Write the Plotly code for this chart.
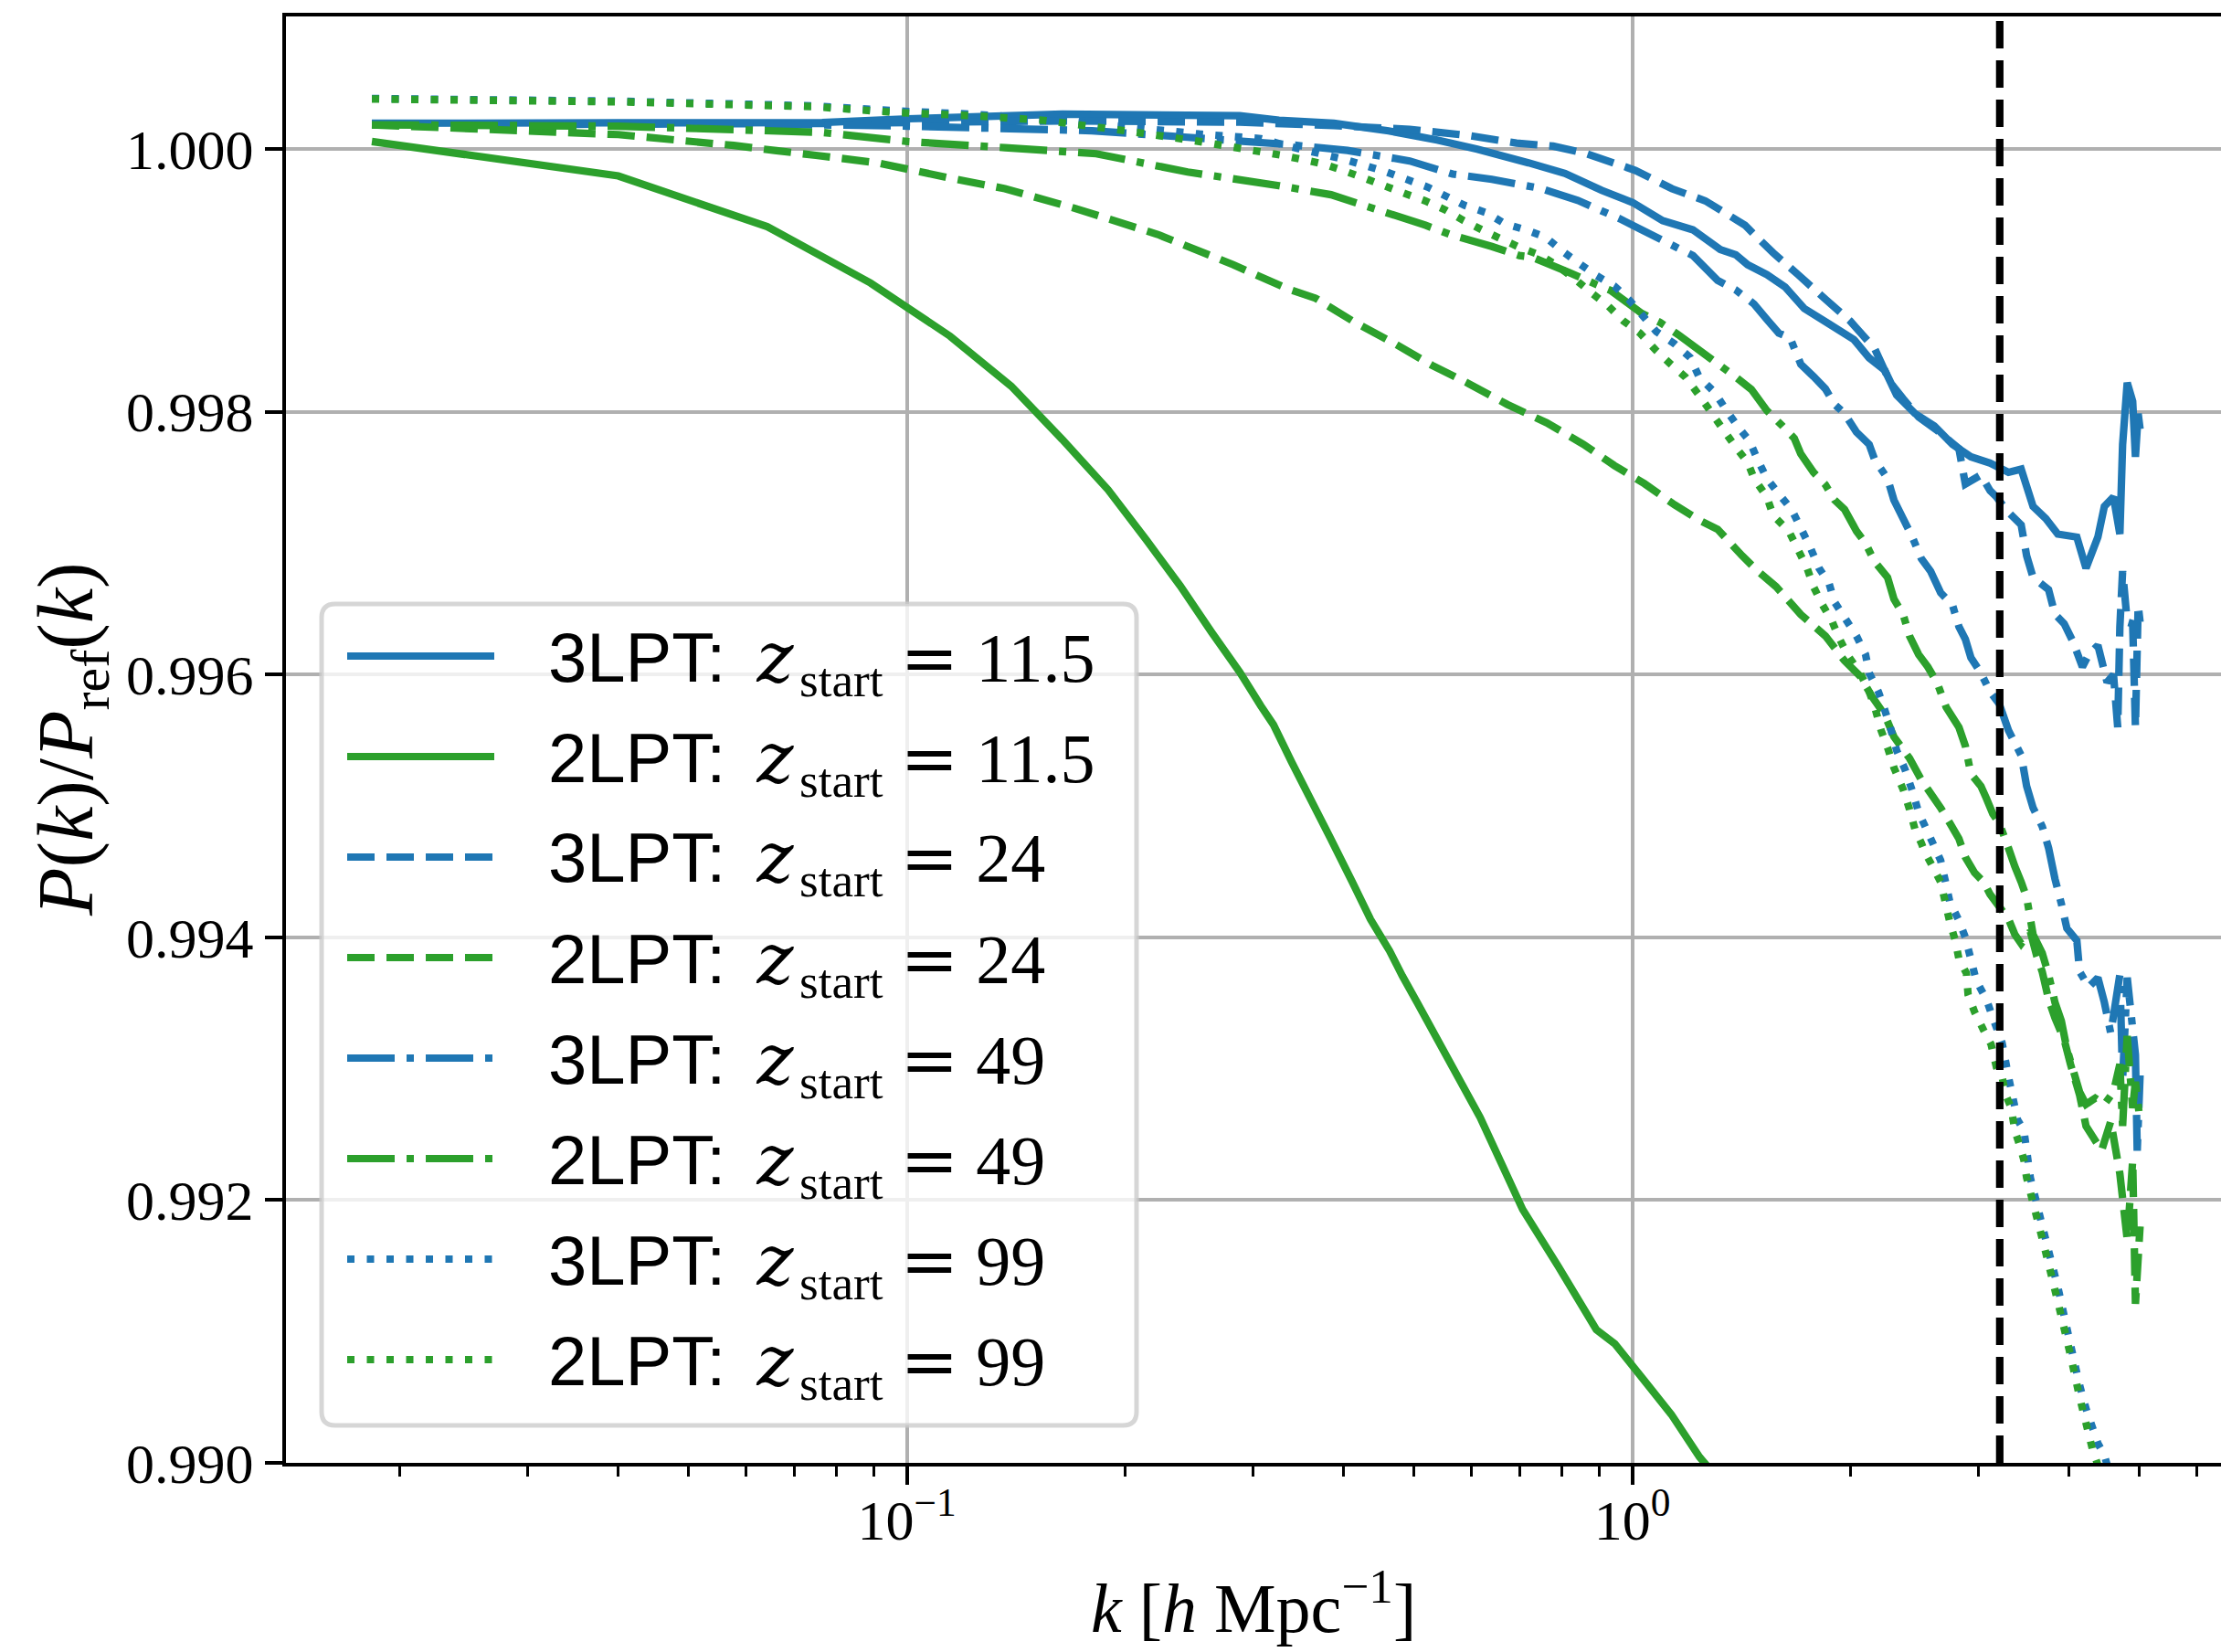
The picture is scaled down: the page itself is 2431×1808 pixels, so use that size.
import plotly.graph_objects as go

# ---------------------------------------------------------------------------
# Measured P(k)/P_ref(k) for each initial-condition setup
# ---------------------------------------------------------------------------
k_3lpt_z115 = [0.0183, 0.040, 0.0764, 0.1003, 0.1638, 0.2876, 0.3258, 0.3878, 0.4614, 0.5381,
               0.6113, 0.7191, 0.8077, 0.907, 1.001, 1.101, 1.212, 1.322, 1.389, 1.442,
               1.533, 1.624, 1.726, 1.867, 2.020, 2.121, 2.229, 2.314, 2.453, 2.608,
               2.763, 2.929, 3.113, 3.300, 3.436, 3.568, 3.715, 3.859, 4.100, 4.221,
               4.383, 4.474, 4.606, 4.700, 4.741, 4.811, 4.895, 4.938, 4.981, 5.011]
ratio_3lpt_z115 = [1.000197, 1.000200, 1.000203, 1.000231, 1.000266, 1.000254, 1.000220, 1.000197, 1.000139, 1.000069,
                   1.000000, 0.999896, 0.999815, 0.999687, 0.999594, 0.999456, 0.999386, 0.999236, 0.999196, 0.999120,
                   0.999045, 0.998951, 0.998787, 0.998669, 0.998551, 0.998410, 0.998316, 0.998128, 0.997987, 0.997893,
                   0.997752, 0.997658, 0.997610, 0.997540, 0.997564, 0.997281, 0.997188, 0.997070, 0.997047, 0.996811,
                   0.997047, 0.997281, 0.997352, 0.997070, 0.997752, 0.998222, 0.998081, 0.997658, 0.997987, 0.997870]

k_2lpt_z115 = [0.0183, 0.040, 0.0642, 0.0891, 0.1147, 0.1393, 0.1638, 0.1894, 0.214, 0.238,
               0.263, 0.2876, 0.3075, 0.3201, 0.3393, 0.3606, 0.3833, 0.4109, 0.4357, 0.4628,
               0.4819, 0.5062, 0.617, 0.706, 0.790, 0.892, 0.946, 1.035, 1.132, 1.238,
               1.5, 2.0, 3.0, 5.0]
ratio_2lpt_z115 = [1.000058, 0.999796, 0.999410, 0.998981, 0.998576, 0.998195, 0.997789, 0.997407, 0.997023, 0.996677,
                   0.996323, 0.996019, 0.995763, 0.995619, 0.995332, 0.995045, 0.994759, 0.994424, 0.994136, 0.993897,
                   0.993707, 0.993495, 0.992629, 0.991929, 0.991498, 0.991014, 0.990906, 0.990637, 0.990368, 0.990044,
                   0.989500, 0.988700, 0.987500, 0.985500]

k_3lpt_z24 = [0.0183, 0.040, 0.0764, 0.1638, 0.2876, 0.3878, 0.4933, 0.5939, 0.6924, 0.7776,
              0.8658, 1.010, 1.134, 1.261, 1.430, 1.472, 1.564, 1.692, 1.846, 1.996,
              2.159, 2.268, 2.362, 2.482, 2.630, 2.820, 2.878, 3.024, 3.113, 3.177,
              3.300, 3.436, 3.496, 3.568, 3.748, 3.825, 3.938, 4.053, 4.173, 4.258,
              4.383, 4.513, 4.606, 4.668, 4.700, 4.741, 4.811, 4.895, 4.938, 4.981, 5.011]
ratio_3lpt_z24 = [1.000185, 1.000190, 1.000195, 1.000215, 1.000205, 1.000180, 1.000150, 1.000104, 1.000046, 1.000023,
                  0.999965, 0.999838, 0.999699, 0.999606, 0.999421, 0.999351, 0.999210, 0.999045, 0.998857, 0.998692,
                  0.998480, 0.998222, 0.998100, 0.997960, 0.997860, 0.997720, 0.997450, 0.997520, 0.997400, 0.997352,
                  0.997235, 0.997140, 0.996905, 0.996740, 0.996647, 0.996459, 0.996388, 0.996247, 0.996059, 0.996153,
                  0.996223, 0.995942, 0.996000, 0.995600, 0.996365, 0.996788, 0.996400, 0.996388, 0.995600, 0.996529, 0.996400]

k_2lpt_z24 = [0.0183, 0.040, 0.0577, 0.0661, 0.0749, 0.0910, 0.1147, 0.1365, 0.1706, 0.2216,
              0.2818, 0.3354, 0.3659, 0.4146, 0.4709, 0.5289, 0.5939, 0.6727, 0.762, 0.8558,
              0.9445, 1.039, 1.144, 1.237, 1.311, 1.417, 1.489, 1.578, 1.707, 1.846,
              1.961, 2.061, 2.140, 2.229, 2.294, 2.411, 2.503, 2.555, 2.661, 2.740,
              2.820, 2.878, 2.963, 3.050, 3.113, 3.205, 3.300, 3.368, 3.436, 3.537,
              3.610, 3.673, 3.748, 3.825, 3.938, 4.018, 4.136, 4.221, 4.435, 4.566,
              4.700, 4.811, 4.895, 4.938, 5.011]
ratio_2lpt_z24 = [1.000185, 1.000111, 1.000028, 0.999988, 0.999953, 0.999896, 0.999780, 0.999699, 0.999549, 0.999351,
                  0.999120, 0.998935, 0.998865, 0.998681, 0.998518, 0.998356, 0.998217, 0.998056, 0.997917, 0.997754,
                  0.997592, 0.997454, 0.997292, 0.997176, 0.997106, 0.996905, 0.996788, 0.996670, 0.996458, 0.996294,
                  0.996106, 0.995988, 0.995833, 0.995692, 0.995527, 0.995363, 0.995198, 0.995127, 0.994986, 0.994869,
                  0.994751, 0.994610, 0.994493, 0.994422, 0.994328, 0.994234, 0.994140, 0.994022, 0.993952, 0.994045,
                  0.993858, 0.993740, 0.993528, 0.993387, 0.993222, 0.993035, 0.992800, 0.992564, 0.992377, 0.992600,
                  0.992200, 0.991700, 0.992300, 0.991210, 0.991800]

k_3lpt_z49 = [0.0183, 0.040, 0.0764, 0.1003, 0.1799, 0.2438, 0.3354, 0.405, 0.4933, 0.5654,
              0.6402, 0.7489, 0.8411, 0.961, 1.061, 1.212, 1.311, 1.389, 1.472, 1.533,
              1.592, 1.650, 1.707, 1.777, 1.846, 1.900, 1.961, 2.037, 2.121, 2.159,
              2.248, 2.294, 2.362, 2.432, 2.503, 2.577, 2.661, 2.763, 2.820, 2.878,
              2.929, 3.024, 3.113, 3.205, 3.300, 3.436, 3.496, 3.568, 3.673, 3.748,
              3.825, 3.903, 3.972, 4.100, 4.136, 4.258, 4.383, 4.474, 4.566, 4.700,
              4.741, 4.811, 4.938, 4.966, 5.011]
ratio_3lpt_z49 = [1.000195, 1.000195, 1.000185, 1.000175, 1.000140, 1.000090, 1.000035, 0.999990, 0.999910, 0.999810,
                  0.999770, 0.999700, 0.999610, 0.999470, 0.999350, 0.999190, 0.999000, 0.998928, 0.998820, 0.998704,
                  0.998599, 0.998563, 0.998363, 0.998270, 0.998175, 0.998058, 0.997987, 0.997846, 0.997752, 0.997634,
                  0.997493, 0.997329, 0.997188, 0.997047, 0.996882, 0.996788, 0.996623, 0.996529, 0.996365, 0.996270,
                  0.996129, 0.996012, 0.995870, 0.995777, 0.995575, 0.995386, 0.995151, 0.994986, 0.994845, 0.994681,
                  0.994445, 0.994257, 0.994069, 0.993975, 0.993740, 0.993622, 0.993693, 0.993505, 0.993270, 0.993716,
                  0.992917, 0.993693, 0.993105, 0.992376, 0.992950]

k_2lpt_z49 = [0.0183, 0.040, 0.0764, 0.1003, 0.1365, 0.1824, 0.2438, 0.3258, 0.3843, 0.4266,
              0.5183, 0.5605, 0.6402, 0.6985, 0.7274, 0.8169, 0.8913, 0.9337, 1.0304, 1.0919,
              1.157, 1.2842, 1.3889, 1.4591, 1.5328, 1.6103, 1.6722, 1.7065, 1.7771, 1.8455,
              1.900, 1.9614, 2.037, 2.0966, 2.1588, 2.2481, 2.2941, 2.3621, 2.4105, 2.4815,
              2.5546, 2.6303, 2.7077, 2.8202, 2.8779, 2.9287, 3.0237, 3.0771, 3.1402, 3.205,
              3.2995, 3.3677, 3.4356, 3.4963, 3.5682, 3.6728, 3.7481, 3.8249, 3.9031, 3.9719,
              4.0532, 4.1362, 4.2209, 4.3461, 4.4741, 4.6057, 4.6999, 4.7412, 4.8106, 4.8947,
              4.9378, 5.011]
ratio_2lpt_z49 = [1.000185, 1.000175, 1.000127, 1.000058, 1.000011, 0.999965, 0.999826, 0.999722, 0.999653, 0.999572,
                  0.999421, 0.999351, 0.999259, 0.999190, 0.999178, 0.999063, 0.998970, 0.998924, 0.998750, 0.998681,
                  0.998588, 0.998403, 0.998264, 0.998171, 0.998010, 0.997893, 0.997799, 0.997681, 0.997540, 0.997446,
                  0.997329, 0.997258, 0.997093, 0.996999, 0.996858, 0.996740, 0.996576, 0.996458, 0.996294, 0.996153,
                  0.996059, 0.995941, 0.995753, 0.995598, 0.995457, 0.995246, 0.995151, 0.995057, 0.994939, 0.994869,
                  0.994681, 0.994540, 0.994422, 0.994304, 0.994022, 0.993881, 0.993716, 0.993505, 0.993364, 0.993152,
                  0.992988, 0.992823, 0.992729, 0.992776, 0.992729, 0.992823, 0.993035, 0.992564, 0.993250, 0.992700,
                  0.992900, 0.992600]

k_3lpt_z99 = [0.0183, 0.040, 0.0741, 0.0973, 0.1241, 0.1546, 0.2007, 0.2531, 0.3075, 0.3354,
              0.4026, 0.4574, 0.5228, 0.554, 0.587, 0.6293, 0.6668, 0.7129, 0.7599, 0.8006,
              0.8435, 0.8913, 0.9445, 0.9893, 1.0792, 1.1436, 1.2016, 1.2366, 1.2991, 1.3491,
              1.4011, 1.4507, 1.489, 1.5328, 1.5919, 1.6577, 1.7065, 1.7568, 1.8085, 1.8672,
              1.900, 1.9614, 2.037, 2.0966, 2.1213, 2.1838, 2.2288, 2.2678, 2.3143, 2.3758,
              2.4317, 2.4815, 2.5328, 2.6075, 2.6607, 2.6996, 2.7396, 2.8202, 2.8779, 2.9287,
              2.9798, 3.0771, 3.1402, 3.2331, 3.2995, 3.3477, 3.3966, 3.466, 3.4963, 3.5372,
              3.7154, 3.8585, 4.0179, 4.1362, 4.2209, 4.3834, 4.4741, 4.700, 5.011]
ratio_3lpt_z99 = [1.000385, 1.000365, 1.000330, 1.000290, 1.000265, 1.000230, 1.000170, 1.000115, 1.000080, 1.000023,
                  0.999919, 0.999828, 0.999710, 0.999641, 0.999572, 0.999516, 0.999433, 0.999386, 0.999329, 0.999224,
                  0.999132, 0.999039, 0.998958, 0.998854, 0.998611, 0.998518, 0.998414, 0.998264, 0.998148, 0.998009,
                  0.997882, 0.997778, 0.997634, 0.997493, 0.997376, 0.997258, 0.997117, 0.996976, 0.996811, 0.996694,
                  0.996553, 0.996435, 0.996294, 0.996153, 0.996012, 0.995870, 0.995729, 0.995598, 0.995422, 0.995280,
                  0.995116, 0.994951, 0.994845, 0.994693, 0.994586, 0.994433, 0.994269, 0.994128, 0.993999, 0.993834,
                  0.993670, 0.993528, 0.993387, 0.993199, 0.992941, 0.992776, 0.992611, 0.992529, 0.992376, 0.992170,
                  0.991697, 0.991342, 0.990900, 0.990590, 0.990413, 0.990148, 0.990058, 0.989650, 0.989100]

k_2lpt_z99 = [0.0183, 0.040, 0.0741, 0.0973, 0.1241, 0.1546, 0.2007, 0.2531, 0.3289, 0.3524,
              0.3766, 0.3992, 0.4266, 0.4548, 0.4847, 0.5183, 0.5524, 0.5855, 0.6202, 0.6592,
              0.7026, 0.7489, 0.7845, 0.8363, 0.881, 0.9256, 0.9723, 1.0243, 1.0762, 1.1272,
              1.1842, 1.2366, 1.2842, 1.3374, 1.3889, 1.4424, 1.4719, 1.5328, 1.5643, 1.6432,
              1.6916, 1.7415, 1.7771, 1.8294, 1.8834, 1.922, 1.9786, 2.0606, 2.1213, 2.1588,
              2.2029, 2.2481, 2.2941, 2.3621, 2.4105, 2.453, 2.5033, 2.5328, 2.6075, 2.6607,
              2.7396, 2.7876, 2.8202, 2.8875, 2.9032, 2.9627, 3.0503, 3.1222, 3.177, 3.2331,
              3.2711, 3.3285, 3.3677, 3.417, 3.466, 3.4963, 3.7154, 3.8585, 4.0179, 4.1362,
              4.31, 4.4352, 4.700, 5.011]
ratio_2lpt_z99 = [1.000382, 1.000360, 1.000324, 1.000278, 1.000254, 1.000219, 1.000139, 1.000058, 0.999953, 0.999919,
                  0.999884, 0.999838, 0.999780, 0.999722, 0.999664, 0.999606, 0.999537, 0.999456, 0.999386, 0.999317,
                  0.999247, 0.999190, 0.999120, 0.999004, 0.998900, 0.998808, 0.998692, 0.998600, 0.998472, 0.998368,
                  0.998264, 0.998125, 0.997997, 0.997858, 0.997731, 0.997615, 0.997493, 0.997352, 0.997211, 0.997093,
                  0.996952, 0.996811, 0.996670, 0.996529, 0.996411, 0.996294, 0.996153, 0.996012, 0.995870, 0.995753,
                  0.995575, 0.995445, 0.995292, 0.995127, 0.994975, 0.994822, 0.994716, 0.994645, 0.994516, 0.994422,
                  0.994116, 0.993975, 0.993834, 0.993728, 0.993564, 0.993434, 0.993293, 0.993187, 0.993010, 0.992941,
                  0.992800, 0.992705, 0.992529, 0.992423, 0.992305, 0.992170, 0.991600, 0.991230, 0.990820, 0.990500,
                  0.990100, 0.989900, 0.989500, 0.989000]

# Nyquist wavenumber of the particle grid
k_nyquist = 3.21

y_tick_values = [0.990, 0.992, 0.994, 0.996, 0.998, 1.000]
y_tick_labels = ["0.990", "0.992", "0.994", "0.996", "0.998", "1.000"]
x_tick_values = [0.1, 1.0]
x_tick_labels = ["10<sup>−1</sup>", "10<sup>0</sup>"]
x_minor_values = [0.02, 0.03, 0.04, 0.05, 0.06, 0.07, 0.08, 0.09,
                  0.2, 0.3, 0.4, 0.5, 0.6, 0.7, 0.8, 0.9,
                  2, 3, 4, 5, 6]

# ---------------------------------------------------------------------------
# Styling
# ---------------------------------------------------------------------------
W, H = 2431, 1808
ML, MR, MT, MB = 313, 0, 18, 207
PW, PH = W - ML - MR, H - MT - MB

BLUE = "#1f77b4"
GREEN = "#2ca02c"
LW = 8.2
SERIF = "Liberation Serif"
SANS = "Liberation Sans"
WIDE_SERIF = "DejaVu Serif"

DASHES = {
    "solid": "solid",
    "dashed": "30px,13px",
    "dashdot": "52px,13px,8px,13px",
    "dotted": "8px,13.5px",
}


def paper_x(px):
    return (px - ML) / PW


def paper_y(py):
    return (H - MB - py) / PH


series = [
    ("3LPT", "11.5", k_3lpt_z115, ratio_3lpt_z115, BLUE, "solid"),
    ("2LPT", "11.5", k_2lpt_z115, ratio_2lpt_z115, GREEN, "solid"),
    ("3LPT", "24", k_3lpt_z24, ratio_3lpt_z24, BLUE, "dashed"),
    ("2LPT", "24", k_2lpt_z24, ratio_2lpt_z24, GREEN, "dashed"),
    ("3LPT", "49", k_3lpt_z49, ratio_3lpt_z49, BLUE, "dashdot"),
    ("2LPT", "49", k_2lpt_z49, ratio_2lpt_z49, GREEN, "dashdot"),
    ("3LPT", "99", k_3lpt_z99, ratio_3lpt_z99, BLUE, "dotted"),
    ("2LPT", "99", k_2lpt_z99, ratio_2lpt_z99, GREEN, "dotted"),
]

fig = go.Figure()

for method, z, k, ratio, color, dash in series:
    if len(k) != len(ratio):
        raise ValueError(f"{method} z={z}: {len(k)} k values vs {len(ratio)} ratios")
    fig.add_trace(go.Scatter(
        x=k, y=ratio, mode="lines",
        name=f"{method}: z_start = {z}",
        line=dict(color=color, width=LW, dash=DASHES[dash], simplify=False),
        showlegend=False, hoverinfo="skip",
    ))

# Vertical marker at the Nyquist wavenumber
fig.add_trace(go.Scatter(
    x=[k_nyquist, k_nyquist], y=[0.990, 1.00101], mode="lines",
    line=dict(color="black", width=LW, dash=DASHES["dashed"]),
    showlegend=False, hoverinfo="skip",
))

# ---------------------------------------------------------------------------
# Hand-built legend (rounded translucent frame, long line samples)
# ---------------------------------------------------------------------------
shapes = []
annotations = []

bx0, by0, bx1, by1, rad = 352, 661, 1244, 1560, 15
rx, ry = rad / PW, rad / PH
X0, X1 = paper_x(bx0), paper_x(bx1)
Y0, Y1 = paper_y(by1), paper_y(by0)
frame = (f"M {X0 + rx},{Y0} L {X1 - rx},{Y0} Q {X1},{Y0} {X1},{Y0 + ry} "
         f"L {X1},{Y1 - ry} Q {X1},{Y1} {X1 - rx},{Y1} "
         f"L {X0 + rx},{Y1} Q {X0},{Y1} {X0},{Y1 - ry} "
         f"L {X0},{Y0 + ry} Q {X0},{Y0} {X0 + rx},{Y0} Z")
shapes.append(dict(type="path", path=frame, xref="paper", yref="paper",
                   fillcolor="rgba(255,255,255,0.8)",
                   line=dict(color="rgba(204,204,204,0.8)", width=5),
                   layer="above"))

row0, row_step = 718, 110.0
for i, (method, z, _k, _r, color, dash) in enumerate(series):
    yc = row0 + i * row_step
    shapes.append(dict(type="line", xref="paper", yref="paper",
                       x0=paper_x(380), x1=paper_x(541),
                       y0=paper_y(yc), y1=paper_y(yc),
                       line=dict(color=color, width=LW, dash=DASHES[dash]),
                       layer="above"))
    label = (f'<span style="font-family:{SANS}">{method}:</span>\u2009 '
             f'<span style="font-family:{WIDE_SERIF}"><i>z</i></span>\u200a<sub>start</sub> '
             f'<span style="font-family:{WIDE_SERIF}">=</span> {z}')
    annotations.append(dict(text=label, xref="paper", yref="paper",
                            x=paper_x(598), y=paper_y(yc + 6),
                            xanchor="left", yanchor="middle", showarrow=False,
                            font=dict(family=SERIF, size=76, color="black")))

# Axis titles
annotations.append(dict(text="<i>P</i>(<i>k</i>)/<i>P</i><sub>ref</sub>(<i>k</i>)",
                        xref="paper", yref="paper", x=paper_x(78), y=paper_y(809),
                        xanchor="center", yanchor="middle", textangle=-90,
                        showarrow=False, font=dict(family=SERIF, size=86, color="black")))
annotations.append(dict(text="<i>k</i> [<i>h</i> Mpc<sup>−1</sup>]",
                        xref="paper", yref="paper", x=paper_x(1372), y=paper_y(1754),
                        xanchor="center", yanchor="middle",
                        showarrow=False, font=dict(family=SERIF, size=76, color="black")))

fig.update_layout(
    width=W, height=H,
    margin=dict(l=ML, r=MR, t=MT, b=MB, autoexpand=False),
    paper_bgcolor="white", plot_bgcolor="white",
    showlegend=False,
    shapes=shapes, annotations=annotations,
    font=dict(family=SERIF, color="black"),
)

fig.update_xaxes(
    type="log", range=[-1.856, 0.8115],
    tickmode="array", tickvals=x_tick_values, ticktext=x_tick_labels,
    tickfont=dict(family=SERIF, size=62, color="black"),
    ticklabelstandoff=-14,
    ticks="outside", ticklen=20, tickwidth=4, tickcolor="black",
    showgrid=True, gridcolor="#b0b0b0", gridwidth=4,
    showline=True, linecolor="black", linewidth=4, mirror=True,
    zeroline=False,
    minor=dict(tickmode="array", tickvals=x_minor_values, ticks="outside",
               ticklen=11, tickwidth=3, tickcolor="black", showgrid=False),
)

fig.update_yaxes(
    range=[0.990, 1.00101],
    tickmode="array", tickvals=y_tick_values, ticktext=y_tick_labels,
    tickfont=dict(family=SERIF, size=62, color="black"),
    ticks="outside", ticklen=19, tickwidth=4, tickcolor="black",
    showgrid=True, gridcolor="#b0b0b0", gridwidth=4,
    showline=True, linecolor="black", linewidth=4, mirror=False,
    zeroline=False,
)

fig.write_html("out.html")
